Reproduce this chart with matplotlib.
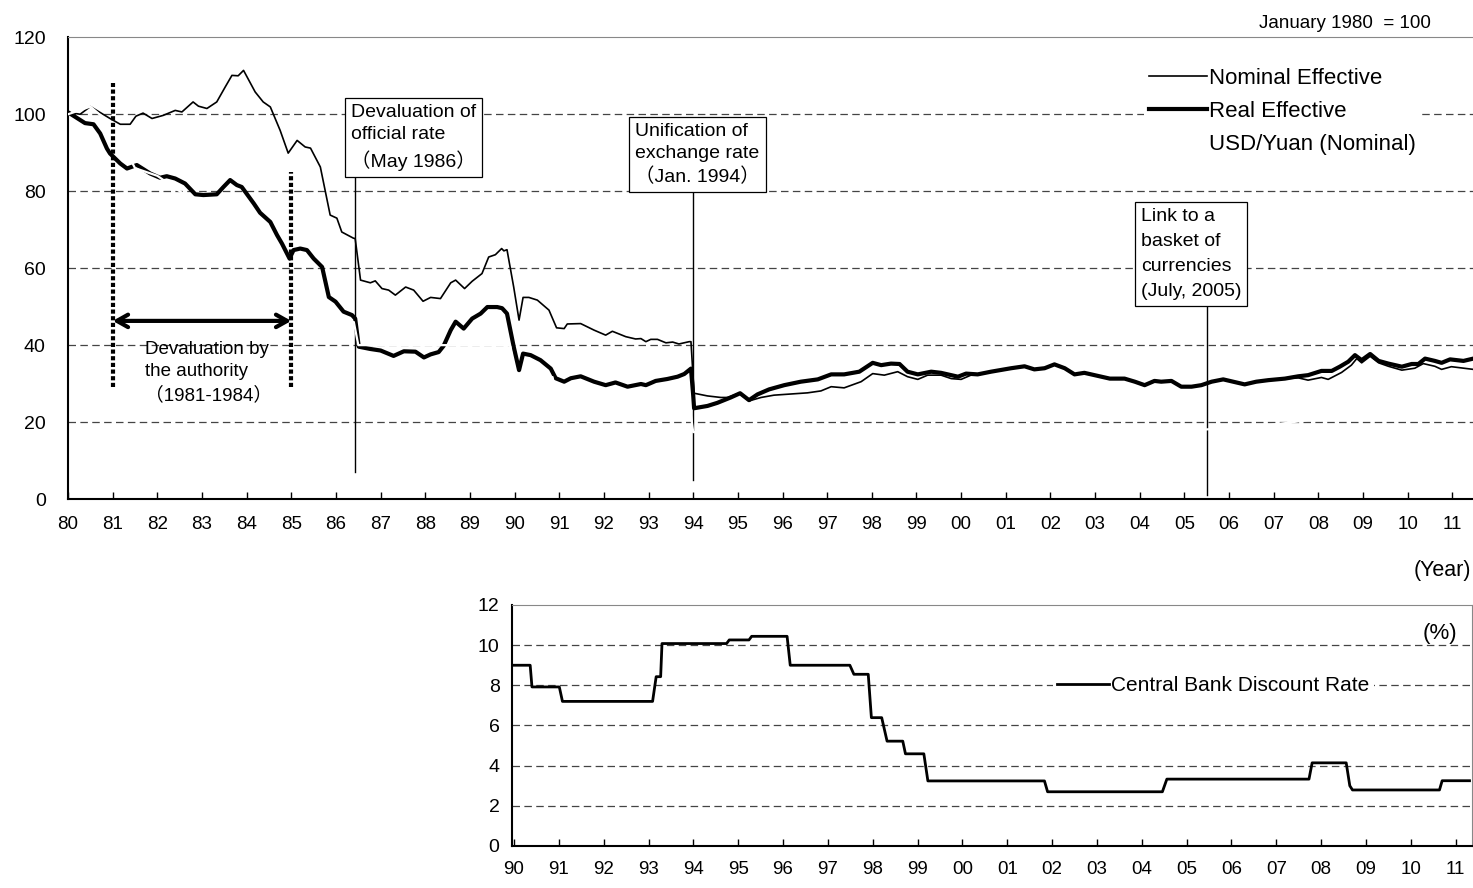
import numpy as np
import matplotlib.pyplot as plt

plt.rcParams['font.family'] = ['Liberation Sans', 'Noto Sans CJK JP', 'DejaVu Sans']

# Nominal effective exchange rate (Jan 1980 = 100)
nom_year = [1980.0, 1980.27, 1980.5, 1980.94, 1981.17, 1981.39, 1981.52, 1981.68, 1981.88, 1982.13,
            1982.4, 1982.55, 1982.8, 1982.92, 1983.11, 1983.33, 1983.52, 1983.67, 1983.81, 1983.93,
            1984.19, 1984.37, 1984.53, 1984.75, 1984.93, 1985.13, 1985.31, 1985.43, 1985.65, 1985.87,
            1986.02, 1986.13, 1986.39, 1986.43, 1986.55, 1986.77, 1986.88, 1987.03, 1987.18, 1987.33,
            1987.56, 1987.74, 1987.95, 1988.12, 1988.34, 1988.57, 1988.68, 1988.88, 1989.05, 1989.27,
            1989.42, 1989.57, 1989.71, 1989.76, 1989.83, 1989.98, 1990.1, 1990.19, 1990.32, 1990.51,
            1990.77, 1990.94, 1991.11, 1991.18, 1991.48, 1991.78, 1992.04, 1992.19, 1992.49, 1992.71,
            1992.83, 1992.94, 1993.05, 1993.2, 1993.39, 1993.54, 1993.68, 1993.91, 1993.95, 1994.02,
            1994.32, 1994.62, 1994.77, 1995.03, 1995.25, 1995.52, 1995.81, 1996.19, 1996.56, 1996.86,
            1997.09, 1997.38, 1997.76, 1998.02, 1998.28, 1998.58, 1998.8, 1999.03, 1999.25, 1999.55,
            1999.78, 2000.0, 2000.22, 2000.67, 2001.12, 2001.42, 2001.64, 2001.87, 2002.09, 2002.32,
            2002.54, 2002.76, 2002.99, 2003.33, 2003.66, 2003.89, 2004.11, 2004.33, 2004.48, 2004.71,
            2004.93, 2005.16, 2005.38, 2005.61, 2005.87, 2006.09, 2006.35, 2006.61, 2006.88, 2007.25,
            2007.55, 2007.77, 2008.07, 2008.22, 2008.52, 2008.74, 2008.86, 2008.97, 2009.16, 2009.35,
            2009.57, 2009.87, 2010.16, 2010.35, 2010.61, 2010.76, 2010.98, 2011.47]
nom_val = [100.5, 100.0, 102.0, 98.9, 97.4, 97.4, 99.5, 100.3, 98.9, 99.7,
           101.0, 100.6, 103.2, 102.1, 101.5, 103.2, 107.1, 110.1, 110.0, 111.4,
           105.8, 103.2, 101.9, 95.8, 89.9, 93.2, 91.5, 91.2, 86.3, 73.8,
           73.0, 69.4, 67.8, 67.7, 56.9, 56.2, 56.7, 54.7, 54.3, 53.0,
           55.1, 54.3, 51.4, 52.4, 52.1, 56.2, 56.9, 54.7, 56.6, 58.6,
           62.9, 63.5, 65.1, 64.5, 64.8, 55.1, 46.5, 52.4, 52.4, 51.7,
           49.1, 44.5, 44.3, 45.5, 45.6, 43.9, 42.6, 43.6, 42.2, 41.6,
           41.7, 40.9, 41.5, 41.5, 40.6, 40.8, 40.3, 40.9, 40.9, 27.5,
           26.8, 26.4, 26.4, 27.5, 25.5, 26.4, 27.0, 27.3, 27.6, 28.1,
           29.2, 28.9, 30.5, 32.6, 32.2, 33.1, 31.8, 31.1, 32.2, 32.2,
           31.3, 31.1, 32.2, 33.1, 34.0, 34.5, 33.7, 34.0, 35.0, 34.0,
           32.4, 32.8, 32.2, 31.3, 31.3, 30.5, 29.6, 30.7, 30.5, 30.7,
           29.2, 29.2, 29.6, 30.5, 31.1, 30.5, 29.8, 30.5, 30.9, 31.3,
           31.5, 30.9, 31.6, 31.1, 32.9, 34.8, 36.5, 35.4, 37.1, 35.4,
           34.5, 33.5, 34.0, 35.2, 34.5, 33.7, 34.4, 33.7]

# Real effective exchange rate (Jan 1980 = 100)
real_year = [1980.0, 1980.38, 1980.57, 1980.72, 1980.87, 1980.94, 1981.17, 1981.32, 1981.54, 1981.84,
             1982.06, 1982.21, 1982.4, 1982.62, 1982.85, 1983.03, 1983.33, 1983.48, 1983.63, 1983.78,
             1983.89, 1984.16, 1984.3, 1984.53, 1984.68, 1984.79, 1984.96, 1985.05, 1985.2, 1985.35,
             1985.5, 1985.69, 1985.84, 1985.99, 1986.17, 1986.36, 1986.43, 1986.51, 1986.77, 1987.0,
             1987.29, 1987.52, 1987.78, 1987.97, 1988.12, 1988.3, 1988.41, 1988.57, 1988.68, 1988.86,
             1989.05, 1989.24, 1989.39, 1989.61, 1989.72, 1989.83, 1989.98, 1990.1, 1990.19, 1990.36,
             1990.58, 1990.81, 1990.92, 1991.11, 1991.26, 1991.48, 1991.78, 1992.04, 1992.26, 1992.53,
             1992.83, 1992.94, 1993.16, 1993.42, 1993.65, 1993.8, 1993.95, 1994.0, 1994.02, 1994.32,
             1994.54, 1994.84, 1995.05, 1995.25, 1995.44, 1995.7, 1996.04, 1996.41, 1996.79, 1997.09,
             1997.38, 1997.72, 1998.02, 1998.21, 1998.43, 1998.62, 1998.8, 1999.03, 1999.33, 1999.55,
             1999.93, 2000.11, 2000.37, 2000.67, 2001.12, 2001.42, 2001.64, 2001.87, 2002.09, 2002.32,
             2002.54, 2002.76, 2002.99, 2003.33, 2003.66, 2003.89, 2004.11, 2004.33, 2004.48, 2004.71,
             2004.93, 2005.16, 2005.38, 2005.61, 2005.87, 2006.09, 2006.35, 2006.61, 2006.88, 2007.25,
             2007.55, 2007.77, 2008.07, 2008.3, 2008.48, 2008.67, 2008.82, 2008.97, 2009.16, 2009.35,
             2009.57, 2009.87, 2010.09, 2010.24, 2010.39, 2010.61, 2010.76, 2010.95, 2011.25, 2011.47]
real_val = [100.5, 97.7, 97.4, 95.0, 91.1, 89.8, 87.2, 85.9, 86.8, 84.6,
            83.5, 83.9, 83.3, 82.0, 79.2, 79.0, 79.2, 81.1, 82.9, 81.6,
            81.1, 76.8, 74.4, 72.0, 68.6, 66.4, 62.5, 64.7, 65.1, 64.7,
            62.5, 60.3, 52.5, 51.3, 48.7, 47.8, 46.9, 39.6, 39.0, 38.6,
            37.2, 38.4, 38.3, 36.8, 37.6, 38.2, 39.8, 43.9, 46.1, 44.3,
            46.9, 48.2, 49.9, 49.9, 49.6, 48.2, 39.6, 33.5, 37.8, 37.4,
            36.1, 33.9, 31.4, 30.5, 31.4, 31.9, 30.5, 29.6, 30.3, 29.2,
            29.9, 29.6, 30.7, 31.2, 31.8, 32.5, 33.9, 27.0, 23.6, 24.2,
            25.0, 26.4, 27.5, 25.7, 27.2, 28.5, 29.6, 30.5, 31.1, 32.4,
            32.4, 33.1, 35.4, 34.8, 35.2, 35.1, 33.1, 32.4, 33.1, 32.8,
            31.8, 32.6, 32.4, 33.1, 34.0, 34.5, 33.7, 34.0, 35.0, 34.0,
            32.4, 32.8, 32.2, 31.3, 31.3, 30.5, 29.6, 30.7, 30.5, 30.7,
            29.2, 29.2, 29.6, 30.5, 31.1, 30.5, 29.8, 30.5, 30.9, 31.3,
            31.9, 32.2, 33.3, 33.3, 34.4, 35.7, 37.4, 36.1, 37.7, 35.9,
            35.2, 34.4, 35.1, 35.1, 36.5, 35.9, 35.4, 36.3, 35.9, 36.5]

# USD/Yuan (nominal), Jan 1980 = 100 -- drawn in white in the original
usd_year = [1980.0, 1980.5, 1981.0, 1981.5, 1982.0, 1982.5, 1983.0, 1983.5, 1984.0, 1984.5,
            1984.9, 1985.5, 1985.9, 1986.4, 1986.5, 1989.9, 1990.0, 1990.85, 1990.9, 1991.5,
            1992.0, 1992.5, 1993.0, 1993.9, 1994.0, 1995.0, 1996.0, 2005.5, 2006.0, 2006.9,
            2007.5, 2008.0, 2008.5, 2010.4, 2011.0, 2011.5]
usd_val = [100.0, 102.0, 97.0, 86.0, 84.0, 80.0, 76.0, 76.0, 75.0, 65.0,
           54.0, 52.0, 47.0, 46.0, 40.0, 40.0, 31.7, 31.7, 28.7, 28.2,
           27.4, 27.0, 26.0, 26.0, 17.4, 17.9, 18.0, 18.1, 18.6, 19.2,
           20.1, 21.0, 21.9, 21.9, 22.7, 23.2]

# Central bank discount rate (%)
rate_year = [1990.0, 1990.36, 1990.4, 1991.01, 1991.08, 1993.09, 1993.17, 1993.27, 1993.3, 1994.74,
             1994.8, 1995.24, 1995.3, 1996.09, 1996.16, 1997.49, 1997.58, 1997.9, 1997.97, 1998.2,
             1998.32, 1998.67, 1998.73, 1999.14, 1999.23, 2001.83, 2001.9, 2004.46, 2004.56, 2007.73,
             2007.8, 2008.56, 2008.64, 2008.7, 2010.64, 2010.7, 2011.31]
rate_val = [9.0, 9.0, 7.92, 7.92, 7.2, 7.2, 8.43, 8.43, 10.08, 10.08,
            10.26, 10.26, 10.44, 10.44, 9.0, 9.0, 8.55, 8.55, 6.39, 6.39,
            5.22, 5.22, 4.59, 4.59, 3.24, 3.24, 2.7, 2.7, 3.33, 3.33,
            4.14, 4.14, 3.0, 2.79, 2.79, 3.25, 3.25]

top_years = list(range(1980, 2012))
bottom_years = list(range(1990, 2012))

# events: (date, label, text left, text top, line bottom, line spacing)
events = [
    (1986.42, 'Devaluation of\nofficial rate\n（May 1986）', 1986.34, 102.6, 7, 1.4),
    (1994.0, 'Unification of\nexchange rate\n（Jan. 1994）', 1992.7, 97.8, 5, 1.4),
    (2005.5, 'Link to a\nbasket of\ncurrencies\n(July, 2005)', 2004.03, 75.7, 1, 1.62),
]
deval_start, deval_end = 1981.0, 1985.0

fig = plt.figure(figsize=(14.73, 8.88), dpi=100)
ax = fig.add_axes([0.0462, 0.438, 0.954, 0.520])
ax2 = fig.add_axes([0.3476, 0.0473, 0.6514, 0.2714])

grid_kw = dict(color='#444444', lw=0.9, dashes=(6, 3.5))

# ---- top chart ----
ax.plot(nom_year, nom_val, color='black', lw=1.2, label='Nominal Effective', zorder=3)
ax.plot(real_year, real_val, color='black', lw=3.0, label='Real Effective', zorder=3)
ax.plot(usd_year, usd_val, color='white', lw=1.6, label='USD/Yuan (Nominal)', zorder=4)

for v in [20, 40, 60, 80, 100]:
    ax.axhline(v, zorder=1, **grid_kw)

ax.set_xlim(1980, 2011.47)
ax.set_ylim(0, 120)
ax.set_yticks(range(0, 121, 20))
ax.set_xticks(top_years)
ax.set_xticklabels(['%02d' % (y % 100) for y in top_years])
ax.tick_params(axis='x', direction='in', length=5, width=1, labelsize=13.5, pad=12)
ax.tick_params(axis='y', length=0, labelsize=14, pad=16)
ax.spines['top'].set_color('#888888')
ax.spines['right'].set_visible(False)
for s in ['left', 'bottom']:
    ax.spines[s].set_linewidth(1.5)

for ex, label, tx, ty, ybot, ls in events:
    ax.plot([ex, ex], [ybot, ty - 12], color='black', lw=1, zorder=2)
    ax.text(tx, ty, label, fontsize=14, va='top', ha='left', linespacing=ls, zorder=5,
            bbox=dict(boxstyle='square,pad=0.3', fc='white', ec='black', lw=0.9))

for xv, ytop in [(deval_start, 108), (deval_end, 85)]:
    ax.plot([xv, xv], [29, ytop], color='black', lw=3, ls=(0, (1, 0.6)), zorder=4)
ax.annotate('', xy=(deval_start, 46.3), xytext=(deval_end, 46.3),
            arrowprops=dict(arrowstyle='<->,head_length=0.8,head_width=0.45', lw=3,
                            color='black', shrinkA=0, shrinkB=0),
            zorder=4)
ax.text(1981.72, 41.2, 'Devaluation by\nthe authority\n（1981-1984）', fontsize=13.5, va='top',
        ha='left', linespacing=1.45)

ax.text(0.97, 1.03, 'January 1980  = 100', transform=ax.transAxes, fontsize=13.5,
        ha='right', va='center')
ax.text(0.9985, -0.155, '(Year)', transform=ax.transAxes, fontsize=15.5, ha='right', va='center')

leg = ax.legend(loc='upper left', bbox_to_anchor=(0.766, 0.944), fontsize=16, frameon=True,
                handlelength=2.6, handletextpad=0.1, labelspacing=0.55, borderpad=0.2,
                borderaxespad=0)
leg.get_frame().set_edgecolor('none')
leg.get_frame().set_facecolor('white')
leg.get_frame().set_alpha(1)
leg.set_zorder(6)

# ---- bottom chart ----
ax2.plot(rate_year, rate_val, color='black', lw=2, label='Central Bank Discount Rate', zorder=3)
for v in [2, 4, 6, 8, 10]:
    ax2.axhline(v, zorder=1, **grid_kw)
ax2.set_xlim(1989.955, 2011.355)
ax2.set_ylim(0, 12)
ax2.set_yticks(range(0, 13, 2))
ax2.set_xticks(bottom_years)
ax2.set_xticklabels(['%02d' % (y % 100) for y in bottom_years])
ax2.tick_params(axis='x', direction='in', length=5, width=1, labelsize=13.5, pad=11)
ax2.tick_params(axis='y', length=0, labelsize=14, pad=9)
ax2.spines['top'].set_color('#888888')
ax2.spines['right'].set_color('#888888')
for s in ['left', 'bottom']:
    ax2.spines[s].set_linewidth(1.5)
ax2.text(0.985, 0.88, '(%)', transform=ax2.transAxes, fontsize=16, ha='right', va='center')

leg2 = ax2.legend(loc='center', bbox_to_anchor=(0.731, 0.664), fontsize=15, frameon=True,
                  handlelength=2.5, handletextpad=0.1, borderpad=0.2, borderaxespad=0)
leg2.get_frame().set_edgecolor('none')
leg2.get_frame().set_facecolor('white')
leg2.get_frame().set_alpha(1)

fig.savefig('out.png', dpi=100)
